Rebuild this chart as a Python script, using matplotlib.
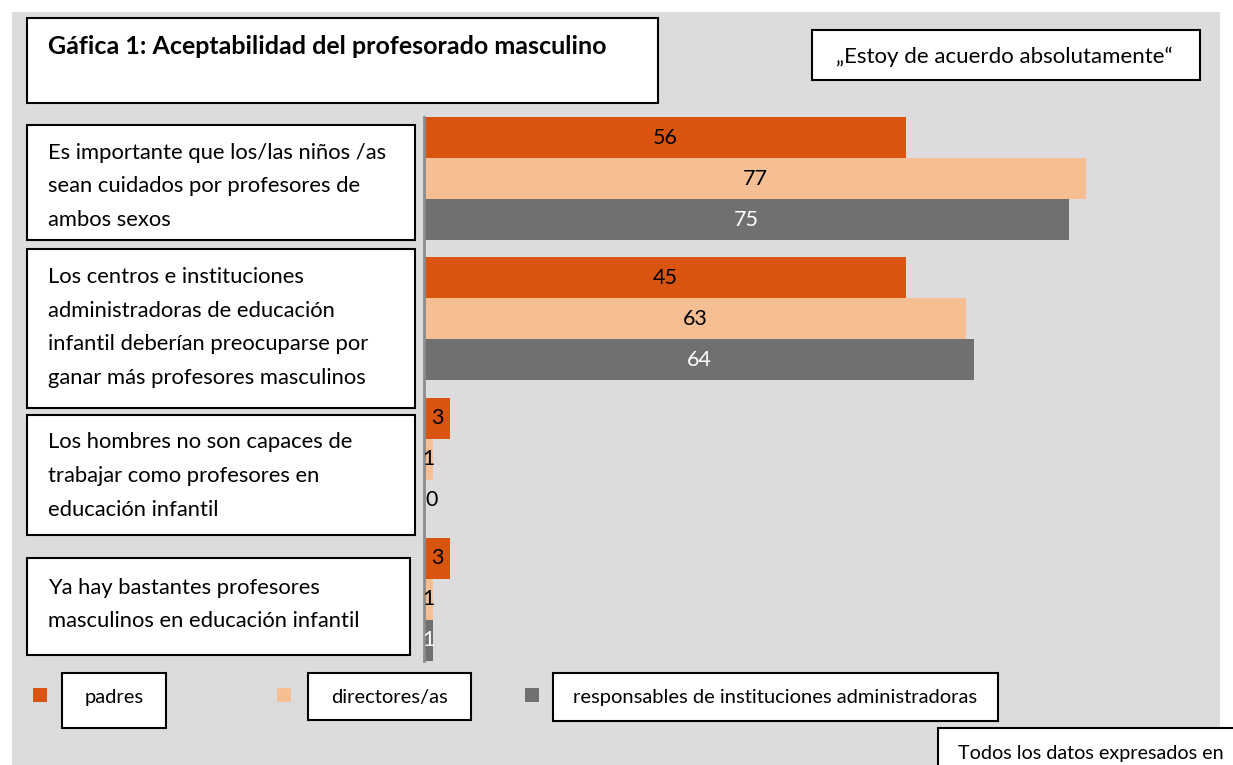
import matplotlib
matplotlib.use("Agg")
import matplotlib.pyplot as plt
from matplotlib.patches import Rectangle

plt.rcParams['font.family'] = ['Lato', 'DejaVu Sans']

# datos (porcentajes, "Estoy de acuerdo absolutamente")
categorias = [
    "Es importante que los/las niños /as\nsean cuidados por profesores de\nambos sexos",
    "Los centros e instituciones\nadministradoras de educación\ninfantil deberían preocuparse por\nganar más profesores masculinos",
    "Los hombres no son capaces de\ntrabajar como profesores en\neducación infantil",
    "Ya hay bastantes profesores\nmasculinos en educación infantil",
]
series = ["padres", "directores/as", "responsables de instituciones administradoras"]
padres = [56, 56, 3, 3]          # largo de barra tal como aparece
padres_etiq = ["56", "45", "3", "3"]  # etiqueta impresa en el original
directores = [77, 63, 1, 1]
responsables = [75, 64, 0, 1]

colores = ["#D9550F", "#F5BF93", "#707070"]
col_texto = ["black", "black", "white"]

W, H = 1233, 765
fig = plt.figure(figsize=(W / 100, H / 100), dpi=100)
fig.patch.set_facecolor("white")


def caja(x0, y0, x1, y1, fc="white", ec="black", lw=1.5, z=2):
    fig.add_artist(Rectangle((x0 / W, 1 - y1 / H), (x1 - x0) / W, (y1 - y0) / H,
                             transform=fig.transFigure, facecolor=fc, edgecolor=ec,
                             linewidth=lw, zorder=z))


def texto(x, y, s, **kw):
    fig.text(x / W, 1 - y / H, s, va="center", zorder=3, **kw)


# fondo gris
caja(12, 12, 1220, 765, fc="#DCDCDE", ec="none", lw=0, z=-5)

# ejes de barras
ax = fig.add_axes([424 / W, 1 - 661 / H, 774 / W, 544 / H])
ax.set_facecolor("none")
ax.set_zorder(1)

periodo = 3.42
valores = [padres, directores, responsables]
etiquetas = [padres_etiq, [str(v) for v in directores], [str(v) for v in responsables]]
for s, (vals, col) in enumerate(zip(valores, colores)):
    ys = [g * periodo + s for g in range(len(vals))]
    ax.barh(ys, vals, height=1, align="edge", color=col, edgecolor="none")
    for y, v, lab in zip(ys, vals, etiquetas[s]):
        xt = v / 2 if v > 0 else 0.9
        tc = col_texto[s] if v > 0 else "black"
        ax.text(xt, y + 0.5, lab, ha="center", va="center", color=tc, fontsize=15.5)

ax.set_xlim(0, 90)
ax.set_ylim(3 * periodo + 3, 0)
for sp in ["top", "right", "bottom"]:
    ax.spines[sp].set_visible(False)
ax.spines["left"].set_color("#8C8C8C")
ax.spines["left"].set_linewidth(2)
ax.set_xticks([])
ax.set_yticks([])

# titulo
caja(27, 18, 658, 103)
texto(48, 47, "Gáfica 1: Aceptabilidad del profesorado masculino",
      fontsize=18, fontweight="bold")

caja(812, 30, 1200, 80)
texto(1004, 57, "„Estoy de acuerdo absolutamente“", fontsize=16, ha="center")

# cajas de categorias
cajas_cat = [(27, 125, 415, 240), (27, 249, 415, 408), (27, 415, 415, 535), (27, 558, 410, 655)]
desplaz = [4, -1, 1, -2]
for (x0, y0, x1, y1), cat, d in zip(cajas_cat, categorias, desplaz):
    caja(x0, y0, x1, y1)
    texto(48, (y0 + y1) / 2 + d, cat, fontsize=15.8, linespacing=1.85)

# leyenda
leyenda = [(33, (62, 673, 166, 728)), (277, (308, 673, 471, 720)), (525, (553, 673, 998, 721))]
for (xs, (x0, y0, x1, y1)), nombre, col in zip(leyenda, series, colores):
    caja(xs, 688, xs + 14, 702, fc=col, ec="none", lw=0)
    caja(x0, y0, x1, y1)
    texto((x0 + x1) / 2, 698, nombre, fontsize=14.5, ha="center")

caja(938, 728, 1240, 775)
texto(958, 753, "Todos los datos expresados en", fontsize=14.2)

fig.savefig("out.png", dpi=100)
